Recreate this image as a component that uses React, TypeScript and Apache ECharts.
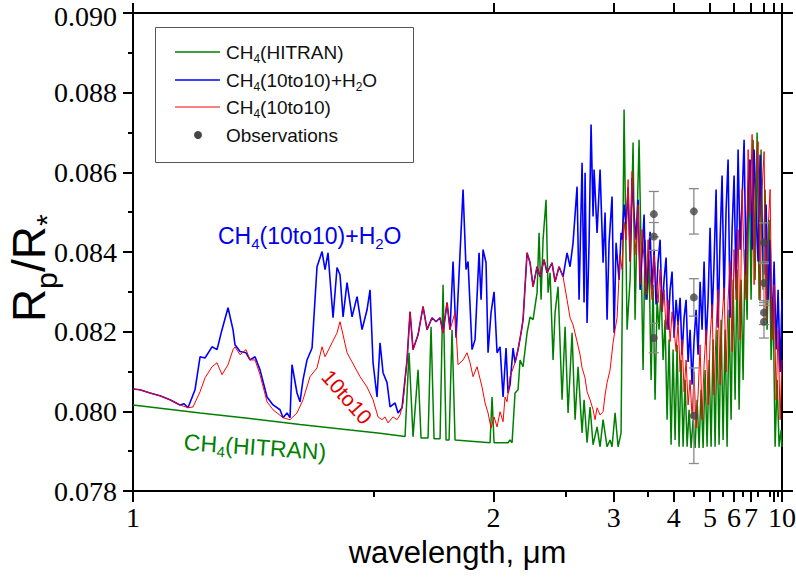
import { useEffect, useRef } from "react";
import * as echarts from "echarts";

// wavelength (µm), Rp/R*
const hitran: [number, number][] = [
  [1.0, 0.08016], [1.1025, 0.07996], [1.1937, 0.07982], [1.3014, 0.07967], [1.4306, 0.07953],
  [1.5211, 0.07945], [1.6058, 0.07937], [1.6202, 0.08147], [1.6349, 0.07936], [1.6537, 0.08104],
  [1.6651, 0.07933], [1.6925, 0.07933], [1.7045, 0.08212], [1.7167, 0.07931], [1.7416, 0.07931],
  [1.7543, 0.08318], [1.7672, 0.07928], [1.7803, 0.07928], [1.7935, 0.08205], [1.807, 0.07928],
  [1.9808, 0.07921], [1.9917, 0.08036], [2.0028, 0.07921], [2.0838, 0.07921], [2.0959, 0.07928],
  [2.1082, 0.07921], [2.1268, 0.08046], [2.1458, 0.08054], [2.1587, 0.08129], [2.1783, 0.08112],
  [2.2049, 0.08197], [2.2253, 0.08237], [2.2461, 0.0823], [2.2745, 0.08298], [2.2889, 0.08448],
  [2.3035, 0.0828], [2.3183, 0.08431], [2.3409, 0.08531], [2.3562, 0.08298], [2.3717, 0.08348],
  [2.3954, 0.08129], [2.4114, 0.08248], [2.4358, 0.08313], [2.4692, 0.08029], [2.4948, 0.08212],
  [2.521, 0.07996], [2.5567, 0.08197], [2.5842, 0.07979], [2.6123, 0.08112], [2.6507, 0.07946],
  [2.6704, 0.08029], [2.7004, 0.07921], [2.7311, 0.08011], [2.7625, 0.07916], [2.8055, 0.07961],
  [2.8386, 0.07911], [2.8725, 0.07979], [2.919, 0.07911], [2.9549, 0.07928], [2.9793, 0.07911],
  [3.0167, 0.07996], [3.0551, 0.07911], [3.0944, 0.07946], [3.1348, 0.08758], [3.1762, 0.08205],
  [3.2188, 0.0833], [3.2624, 0.08675], [3.2922, 0.0823], [3.3226, 0.08481], [3.3535, 0.08682],
  [3.385, 0.08406], [3.4171, 0.08104], [3.4498, 0.08431], [3.4831, 0.0828], [3.5171, 0.08381],
  [3.5517, 0.08079], [3.5871, 0.08318], [3.6231, 0.08029], [3.6599, 0.0828], [3.6974, 0.08205],
  [3.7358, 0.08305], [3.7749, 0.08129], [3.8148, 0.0823], [3.8556, 0.07979], [3.8973, 0.0818],
  [3.9399, 0.07916], [3.9834, 0.08155], [4.0279, 0.07928], [4.0735, 0.08167], [4.12, 0.07911],
  [4.1676, 0.08129], [4.2164, 0.07911], [4.2663, 0.08079], [4.3174, 0.07911], [4.3697, 0.08004],
  [4.4233, 0.07908], [4.4783, 0.07979], [4.5346, 0.07908], [4.5924, 0.08029], [4.6516, 0.07908],
  [4.7124, 0.08054], [4.7748, 0.07908], [4.8389, 0.08104], [4.9048, 0.07911], [4.9724, 0.08129],
  [5.042, 0.07911], [5.1135, 0.0818], [5.1871, 0.07911], [5.2628, 0.08205], [5.3407, 0.07916],
  [5.4211, 0.0823], [5.5038, 0.07928], [5.5892, 0.08205], [5.6772, 0.07911], [5.768, 0.08255],
  [5.8618, 0.07979], [5.9587, 0.0833], [6.0588, 0.08029], [6.1624, 0.08356], [6.2696, 0.08004],
  [6.3805, 0.0833], [6.4955, 0.08079], [6.6147, 0.08406], [6.7383, 0.0823], [6.8667, 0.08632],
  [7.0, 0.0828], [7.1386, 0.08682], [7.2828, 0.0833], [7.433, 0.087], [7.5895, 0.0828],
  [7.7527, 0.08657], [7.9231, 0.08305], [8.1011, 0.08557], [8.2874, 0.08205], [8.4824, 0.08481],
  [8.6868, 0.08129], [8.9012, 0.0828], [9.1266, 0.07911], [9.3636, 0.08079], [9.6133, 0.07911],
  [9.8767, 0.07953], [10.0, 0.07911],
];

const h2o: [number, number][] = [
  [1.0, 0.08056], [1.0098, 0.08054], [1.0242, 0.08046], [1.0389, 0.08039], [1.0541, 0.08029],
  [1.0697, 0.08016], [1.0761, 0.08019], [1.0826, 0.08009], [1.0941, 0.08054], [1.1025, 0.08137],
  [1.1109, 0.08134], [1.1231, 0.08162], [1.1319, 0.08155], [1.1408, 0.08205], [1.1518, 0.0826],
  [1.161, 0.08205], [1.1648, 0.08167], [1.1743, 0.0815], [1.1859, 0.08147], [1.1937, 0.08129],
  [1.2037, 0.08137], [1.2138, 0.08104], [1.2283, 0.08036], [1.241, 0.08016], [1.2561, 0.08004],
  [1.2627, 0.07984], [1.2716, 0.07996], [1.2784, 0.07984], [1.2829, 0.08117], [1.2944, 0.08046],
  [1.3014, 0.08024], [1.3085, 0.08079], [1.3181, 0.08129], [1.3303, 0.08159], [1.3426, 0.08363],
  [1.3553, 0.08401], [1.363, 0.08356], [1.3707, 0.08398], [1.3839, 0.08235], [1.3946, 0.08361],
  [1.4027, 0.08343], [1.411, 0.08237], [1.4221, 0.08323], [1.4363, 0.08237], [1.4507, 0.08288],
  [1.4655, 0.08205], [1.4805, 0.08255], [1.4897, 0.08305], [1.499, 0.08122], [1.5115, 0.08036],
  [1.5211, 0.08172], [1.5308, 0.08097], [1.5439, 0.08072], [1.5539, 0.08011], [1.5708, 0.08021],
  [1.5811, 0.07996], [1.5951, 0.08009], [1.613, 0.08129], [1.6239, 0.0825], [1.6349, 0.08155],
  [1.6537, 0.08192], [1.6729, 0.08263], [1.6885, 0.08205], [1.7085, 0.08235], [1.7249, 0.08225],
  [1.7416, 0.08235], [1.7543, 0.08197], [1.7715, 0.08273], [1.7847, 0.08205], [1.798, 0.08376],
  [1.8116, 0.08185], [1.844, 0.08557], [1.8582, 0.08356], [1.8679, 0.08376], [1.8874, 0.08155],
  [1.9024, 0.0818], [1.9227, 0.08398], [1.933, 0.0828], [1.9434, 0.08406], [1.9592, 0.08373],
  [1.9699, 0.08147], [1.9862, 0.08248], [2.0028, 0.083], [2.0196, 0.08147], [2.0367, 0.08162],
  [2.0541, 0.08036], [2.0718, 0.08159], [2.0838, 0.08046], [2.0959, 0.08067], [2.1144, 0.08159],
  [2.1268, 0.08122], [2.1458, 0.08155], [2.1652, 0.08197], [2.1783, 0.0823], [2.2049, 0.08398],
  [2.2253, 0.08373], [2.2461, 0.08313], [2.2745, 0.08363], [2.2962, 0.08338], [2.3258, 0.08381],
  [2.3485, 0.08348], [2.3874, 0.08373], [2.4114, 0.08325], [2.4441, 0.08363], [2.4777, 0.08338],
  [2.5122, 0.08398], [2.5387, 0.08363], [2.5658, 0.08423], [2.6029, 0.08564], [2.6218, 0.0828],
  [2.6507, 0.08624], [2.6704, 0.08273], [2.6803, 0.08599], [2.7004, 0.08222], [2.7208, 0.08423],
  [2.7414, 0.0872], [2.7625, 0.08489], [2.7731, 0.08607], [2.8055, 0.08448], [2.8386, 0.08607],
  [2.8725, 0.08373], [2.8956, 0.08499], [2.919, 0.0823], [2.9429, 0.08423], [2.9793, 0.08539],
  [3.0042, 0.08197], [3.0294, 0.08423], [3.0681, 0.0833], [3.0944, 0.08448], [3.1078, 0.08431],
  [3.1348, 0.08519], [3.1623, 0.08469], [3.1903, 0.08562], [3.2188, 0.08376], [3.2477, 0.08587],
  [3.2773, 0.08494], [3.3073, 0.08431], [3.338, 0.08531], [3.3692, 0.08305], [3.4009, 0.08393],
  [3.4333, 0.08494], [3.4663, 0.0828], [3.5, 0.08368], [3.5343, 0.08451], [3.5693, 0.08305],
  [3.605, 0.08406], [3.6414, 0.08268], [3.6786, 0.08376], [3.7165, 0.08431], [3.7552, 0.0825],
  [3.7947, 0.0833], [3.8351, 0.08386], [3.8763, 0.08205], [3.9185, 0.08305], [3.9615, 0.08351],
  [4.0056, 0.08185], [4.0506, 0.0828], [4.0966, 0.08217], [4.1437, 0.08285], [4.1919, 0.08142],
  [4.2412, 0.08235], [4.2917, 0.0828], [4.3434, 0.08124], [4.3963, 0.08205], [4.4506, 0.08067],
  [4.5063, 0.0818], [4.5633, 0.08255], [4.6218, 0.08142], [4.6818, 0.08325], [4.7434, 0.08205],
  [4.8067, 0.08376], [4.8716, 0.08167], [4.9384, 0.0828], [5.0069, 0.08461], [5.0775, 0.08235],
  [5.15, 0.08376], [5.2246, 0.08557], [5.3015, 0.0821], [5.3806, 0.08431], [5.4621, 0.08592],
  [5.5462, 0.0828], [5.6328, 0.08506], [5.7222, 0.08632], [5.8145, 0.08235], [5.9098, 0.08456],
  [6.0083, 0.08592], [6.1102, 0.08305], [6.2155, 0.08657], [6.3246, 0.08406], [6.4375, 0.08531],
  [6.5545, 0.08682], [6.6759, 0.08343], [6.8019, 0.08557], [6.9327, 0.08632], [7.0686, 0.08406],
  [7.21, 0.08657], [7.3571, 0.08501], [7.5104, 0.08376], [7.6702, 0.08644], [7.837, 0.08456],
  [8.0111, 0.08343], [8.1932, 0.08519], [8.3837, 0.0828], [8.5833, 0.08431], [8.7927, 0.08205],
  [9.0125, 0.08376], [9.2436, 0.08155], [9.4868, 0.08305], [9.7432, 0.08099], [10.0, 0.0828],
];

const tenToTen: [number, number][] = [
  [1.0, 0.08056], [1.0098, 0.08054], [1.0242, 0.08046], [1.0389, 0.08039], [1.0541, 0.08029],
  [1.0697, 0.08016], [1.0826, 0.08009], [1.0908, 0.08011], [1.1025, 0.08049], [1.1109, 0.08084],
  [1.1231, 0.08112], [1.1319, 0.08122], [1.1408, 0.08092], [1.1518, 0.08117], [1.161, 0.08155],
  [1.1648, 0.08162], [1.1743, 0.08142], [1.1859, 0.08155], [1.1937, 0.08129], [1.2037, 0.08129],
  [1.2138, 0.08092], [1.2283, 0.08024], [1.241, 0.08004], [1.2627, 0.07984], [1.2784, 0.07979],
  [1.2944, 0.07996], [1.3085, 0.08029], [1.3254, 0.08087], [1.3426, 0.08109], [1.3553, 0.08162],
  [1.363, 0.08137], [1.3812, 0.08172], [1.3946, 0.08197], [1.4027, 0.08225], [1.411, 0.08192],
  [1.4221, 0.08147], [1.4363, 0.08124], [1.4595, 0.08087], [1.4805, 0.08061], [1.499, 0.08029],
  [1.5147, 0.07986], [1.5275, 0.07979], [1.5373, 0.07986], [1.5472, 0.07971], [1.564, 0.07986],
  [1.5777, 0.07979], [1.5881, 0.07991], [1.5987, 0.08021], [1.613, 0.08129], [1.6239, 0.0825],
  [1.6349, 0.08155], [1.6537, 0.08192], [1.6729, 0.08263], [1.6885, 0.08205], [1.7085, 0.08235],
  [1.7249, 0.08225], [1.7416, 0.08235], [1.7543, 0.08197], [1.7715, 0.08273], [1.7847, 0.08205],
  [1.807, 0.08248], [1.8207, 0.08117], [1.844, 0.08129], [1.863, 0.08147], [1.8776, 0.08122],
  [1.8924, 0.08087], [1.9125, 0.08112], [1.9382, 0.08061], [1.9539, 0.08021], [1.9699, 0.07996],
  [1.9862, 0.07958], [2.0028, 0.07986], [2.0196, 0.07961], [2.0367, 0.07999], [2.0541, 0.07974],
  [2.0659, 0.08036], [2.0778, 0.08024], [2.0959, 0.08087], [2.1268, 0.08122], [2.1458, 0.08155],
  [2.1652, 0.08197], [2.1783, 0.0823], [2.2049, 0.08398], [2.2253, 0.08373], [2.2461, 0.08313],
  [2.2745, 0.08363], [2.2962, 0.08338], [2.3258, 0.08381], [2.3485, 0.08348], [2.3874, 0.08373],
  [2.4114, 0.08325], [2.4441, 0.08363], [2.4777, 0.08338], [2.5122, 0.0828], [2.5387, 0.08235],
  [2.5658, 0.08217], [2.6029, 0.08175], [2.6314, 0.08142], [2.6507, 0.08109], [2.6803, 0.08084],
  [2.7004, 0.08049], [2.7311, 0.08029], [2.7625, 0.08004], [2.7838, 0.07979], [2.8055, 0.08009],
  [2.8386, 0.07991], [2.8725, 0.07999], [2.8956, 0.08041], [2.919, 0.08072], [2.9549, 0.08104],
  [2.9917, 0.08172], [3.0167, 0.08205], [3.0422, 0.08235], [3.0812, 0.08393], [3.1078, 0.08356],
  [3.1348, 0.08476], [3.1623, 0.08431], [3.1903, 0.08582], [3.2188, 0.08376], [3.2477, 0.08602],
  [3.2773, 0.08469], [3.3073, 0.08393], [3.338, 0.08519], [3.3692, 0.08318], [3.4009, 0.08456],
  [3.4333, 0.08381], [3.4663, 0.08293], [3.5, 0.08431], [3.5343, 0.08343], [3.5693, 0.0828],
  [3.605, 0.08393], [3.6414, 0.08325], [3.6786, 0.08273], [3.7165, 0.08356], [3.7552, 0.0825],
  [3.7947, 0.08305], [3.8351, 0.08205], [3.8763, 0.0828], [3.9185, 0.08175], [3.9615, 0.0825],
  [4.0056, 0.08205], [4.0506, 0.0815], [4.0966, 0.08225], [4.1437, 0.08099], [4.1919, 0.0818],
  [4.2412, 0.08049], [4.2917, 0.08129], [4.3434, 0.08016], [4.3963, 0.08079], [4.4506, 0.07984],
  [4.5063, 0.08099], [4.5633, 0.07958], [4.6218, 0.08041], [4.6818, 0.08167], [4.7434, 0.07979],
  [4.8067, 0.08117], [4.8716, 0.08205], [4.9384, 0.08016], [5.0069, 0.0818], [5.0775, 0.08268],
  [5.15, 0.08041], [5.2246, 0.08205], [5.3015, 0.08305], [5.3806, 0.08067], [5.4621, 0.0823],
  [5.5462, 0.0831], [5.6328, 0.08099], [5.7222, 0.0828], [5.8145, 0.08376], [5.9098, 0.0815],
  [6.0083, 0.08406], [6.1102, 0.0828], [6.2155, 0.08456], [6.3246, 0.0818], [6.4375, 0.08557],
  [6.5545, 0.08381], [6.6759, 0.0828], [6.8019, 0.08657], [6.9327, 0.08494], [7.0686, 0.08695],
  [7.21, 0.08318], [7.3571, 0.08594], [7.5104, 0.08677], [7.6702, 0.0828], [7.837, 0.08557],
  [8.0111, 0.08652], [8.1932, 0.0823], [8.3837, 0.08456], [8.5833, 0.08557], [8.7927, 0.0818],
  [9.0125, 0.08318], [9.2436, 0.08029], [9.4868, 0.08205], [9.7432, 0.07979], [10.0, 0.08129],
];

const obsWavelength = [3.6, 3.6, 3.6, 4.5, 4.5, 4.5, 8.0, 8.0, 8.0, 8.0];
const obsRatio = [0.08495, 0.08439, 0.08184, 0.08502, 0.08286, 0.07989, 0.08424, 0.08322, 0.08248, 0.08225];
const obsError = [0.00057, 0.00035, 0.00037, 0.00057, 0.00047, 0.0012, 0.00049, 0.00049, 0.0003, 0.00041];

const majorTicks = [1, 2, 3, 4, 5, 6, 7, 8, 9, 10];
const labelTicks = [1, 2, 3, 4, 5, 6, 7, 8, 10];
const minorTicks = [1.5, 2.5, 3.5, 4.5, 5.5, 6.5, 7.5, 8.5, 9.5];
const yMin = 0.078;
const yMax = 0.09;
const yStep = 0.002;

const SERIF = "'Liberation Serif', 'DejaVu Serif', serif";
const SANS = "'Liberation Sans', Arial, sans-serif";

const inv = (w: number) => 1 / w;
const toAxis = (arr: [number, number][]) => arr.map(([w, r]) => [1 / w, r]);

function subText(x: number, y: number, tokens: string, size: number, sub: number, color: string, extra: any = {}) {
  return {
    type: "text",
    x,
    y,
    ...extra,
    style: {
      text: tokens,
      fill: color,
      fontFamily: SANS,
      fontSize: size,
      textVerticalAlign: "middle",
      textAlign: extra.textAlign || "left",
      rich: {
        n: { fontSize: size, fontFamily: SANS, fill: color, lineHeight: size + 6 },
        s: { fontSize: sub, fontFamily: SANS, fill: color, lineHeight: sub - 2, verticalAlign: "bottom" },
      },
    },
  };
}

export default function App() {
  const ref = useRef<HTMLDivElement>(null);
  useEffect(() => {
    if (!ref.current) return;
    const chart = echarts.init(ref.current, null, { renderer: "svg" });
    const axisLine = { show: true, onZero: false, lineStyle: { color: "#000", width: 2 } };
    const baseX = {
      type: "value",
      min: 0.1,
      max: 1,
      inverse: true,
      splitLine: { show: false },
      axisLine,
    };
    const legendX = 175;
    const legendTextX = 226;
    const option: any = {
      animation: false,
      backgroundColor: "#fff",
      grid: { left: 133, right: 14, top: 13, bottom: 91, containLabel: false, outerBoundsMode: "none" },
      xAxis: [
        {
          ...baseX,
          position: "bottom",
          axisTick: { show: true, customValues: majorTicks.map(inv), length: 11, lineStyle: { color: "#000", width: 2 } },
          axisLabel: {
            show: true,
            customValues: labelTicks.map(inv),
            formatter: (v: number) => String(Math.round(1 / v)),
            fontFamily: SERIF,
            fontSize: 28,
            lineHeight: 22,
            color: "#000",
            margin: 15,
            showMinLabel: true,
            showMaxLabel: true,
            hideOverlap: false,
          },
          name: "wavelength, μm",
          nameLocation: "middle",
          nameGap: 46,
          nameTextStyle: { fontFamily: SANS, fontSize: 31, color: "#000" },
        },
        {
          ...baseX,
          position: "bottom",
          axisLine: { show: false, onZero: false },
          axisTick: { show: true, customValues: minorTicks.map(inv), length: 6, lineStyle: { color: "#000", width: 2 } },
          axisLabel: { show: false },
        },
        {
          ...baseX,
          position: "top",
          axisTick: { show: true, customValues: majorTicks.map(inv), length: 10, lineStyle: { color: "#000", width: 2 } },
          axisLabel: { show: false },
        },
      ],
      yAxis: [
        {
          type: "value",
          position: "left",
          min: yMin,
          max: yMax,
          interval: yStep,
          axisLine,
          splitLine: { show: false },
          axisTick: { show: true, length: 10, lineStyle: { color: "#000", width: 2 } },
          minorTick: { show: true, splitNumber: 2, length: 5, lineStyle: { color: "#000", width: 2 } },
          axisLabel: {
            formatter: (v: number) => (v > yMax - yStep / 4 ? "{top|" + v.toFixed(3) + "}" : v.toFixed(3)),
            fontFamily: SERIF,
            fontSize: 28,
            lineHeight: 22,
            color: "#000",
            margin: 16,
            showMinLabel: true,
            showMaxLabel: true,
            rich: {
              top: { fontFamily: SERIF, fontSize: 28, lineHeight: 22, color: "#000", padding: [6, 0, 0, 0] },
            },
          },
        },
        {
          type: "value",
          position: "right",
          min: yMin,
          max: yMax,
          interval: yStep,
          axisLine,
          splitLine: { show: false },
          axisTick: { show: true, length: 11, lineStyle: { color: "#000", width: 2 } },
          axisLabel: { show: false },
        },
      ],
      series: [
        {
          type: "line",
          name: "CH4(HITRAN)",
          data: toAxis(hitran),
          symbol: "none",
          lineStyle: { color: "#008000", width: 1.5 },
          z: 2,
        },
        {
          type: "line",
          name: "CH4(10to10)+H2O",
          data: toAxis(h2o),
          symbol: "none",
          lineStyle: { color: "#0000ff", width: 1.6 },
          z: 3,
        },
        {
          type: "line",
          name: "CH4(10to10)",
          data: toAxis(tenToTen),
          symbol: "none",
          lineStyle: { color: "#ff0000", width: 1 },
          z: 4,
        },
        {
          type: "custom",
          name: "errors",
          data: obsWavelength.map((w, i) => [1 / w, obsRatio[i], obsError[i]]),
          encode: { x: 0, y: 1 },
          z: 5,
          renderItem: (_p: any, api: any) => {
            const x = api.value(0);
            const y = api.value(1);
            const e = api.value(2);
            const a = api.coord([x, y + e]);
            const b = api.coord([x, y - e]);
            const st = { stroke: "#8a8a8a", lineWidth: 1.3 };
            const hw = 5;
            return {
              type: "group",
              children: [
                { type: "line", shape: { x1: a[0], y1: a[1], x2: b[0], y2: b[1] }, style: st },
                { type: "line", shape: { x1: a[0] - hw, y1: a[1], x2: a[0] + hw, y2: a[1] }, style: st },
                { type: "line", shape: { x1: b[0] - hw, y1: b[1], x2: b[0] + hw, y2: b[1] }, style: st },
              ],
            };
          },
        },
        {
          type: "scatter",
          name: "Observations",
          data: obsWavelength.map((w, i) => [1 / w, obsRatio[i]]),
          symbol: "circle",
          symbolSize: 8,
          itemStyle: { color: "#454545" },
          z: 6,
        },
      ],
      graphic: [
        {
          type: "group",
          x: 52,
          y: 268,
          rotation: Math.PI / 2,
          children: [
            { type: "text", x: -54, y: 0, style: { text: "R", fontSize: 46, fontFamily: SANS, fill: "#000", textVerticalAlign: "bottom" } },
            { type: "text", x: -21, y: 9, style: { text: "p", fontSize: 30, fontFamily: SANS, fill: "#000", textVerticalAlign: "bottom" } },
            { type: "text", x: -4, y: 0, style: { text: "/R", fontSize: 46, fontFamily: SANS, fill: "#000", textVerticalAlign: "bottom" } },
            { type: "text", x: 42, y: 9, style: { text: "*", fontSize: 30, fontFamily: SANS, fill: "#000", textVerticalAlign: "bottom" } },
          ],
        },
        {
          type: "rect",
          shape: { x: 155.5, y: 27.5, width: 258, height: 135 },
          style: { fill: "#fff", stroke: "#555", lineWidth: 1 },
          z: 10,
        },
        { type: "line", shape: { x1: legendX, y1: 52, x2: legendX + 45, y2: 52 }, style: { stroke: "#008000", lineWidth: 1.5 }, z: 11 },
        { type: "line", shape: { x1: legendX, y1: 80, x2: legendX + 45, y2: 80 }, style: { stroke: "#0000ff", lineWidth: 1.6 }, z: 11 },
        { type: "line", shape: { x1: legendX, y1: 107, x2: legendX + 45, y2: 107 }, style: { stroke: "#ff0000", lineWidth: 1 }, z: 11 },
        { type: "circle", shape: { cx: legendX + 23, cy: 135, r: 4 }, style: { fill: "#454545" }, z: 11 },
        { ...subText(legendTextX, 52, "{n|CH}{s|4}{n|(HITRAN)}", 19, 12, "#111"), z: 11 },
        { ...subText(legendTextX, 80, "{n|CH}{s|4}{n|(10to10)+H}{s|2}{n|O}", 19, 12, "#111"), z: 11 },
        { ...subText(legendTextX, 107, "{n|CH}{s|4}{n|(10to10)}", 19, 12, "#111"), z: 11 },
        { type: "text", x: legendTextX, y: 135, style: { text: "Observations", fontFamily: SANS, fontSize: 19, fill: "#111", textVerticalAlign: "middle" }, z: 11 },
        { ...subText(218, 236, "{n|CH}{s|4}{n|(10to10)+H}{s|2}{n|O}", 23, 15, "#0000ee"), z: 12 },
        { ...subText(255, 447, "{n|CH}{s|4}{n|(HITRAN)}", 23, 15, "#008000", { rotation: -0.07, textAlign: "center" }), z: 12 },
        {
          type: "text",
          x: 347,
          y: 397,
          rotation: -0.85,
          style: { text: "10to10", fontFamily: SANS, fontSize: 21, fill: "#e00000", textAlign: "center", textVerticalAlign: "middle" },
          z: 12,
        },
      ],
    };
    chart.setOption(option);
    return () => chart.dispose();
  }, []);
  return <div ref={ref} style={{ position: "fixed", left: 0, top: 0, width: 796, height: 582, background: "#fff" }} />;
}
